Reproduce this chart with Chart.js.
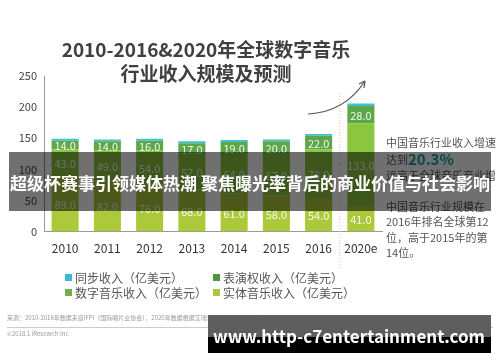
<!DOCTYPE html>
<html>
<head>
<meta charset="utf-8">
<script src="https://cdn.jsdelivr.net/npm/chart.js@4"></script>
<style>
  html, body { margin: 0; padding: 0; background: #fff; }
  #wrap { width: 500px; height: 362px; position: relative; }
</style>
</head>
<body>
<div id="wrap"><canvas id="chart" width="500" height="362"></canvas></div>
<script>
const years = ["2010", "2011", "2012", "2013", "2014", "2015", "2016", "2020e"];
const physical = [89, 82, 76, 68, 61, 58, 54, 41];
const digital = [43, 49, 54, 57, 64, 67, 78, 133];
const performance = [14, 14, 16, 17, 19, 20, 22, 28];
const sync = [3, 3, 3, 3, 3, 3, 3, 4];
const yTicks = [0, 50, 100, 150, 200, 250];

const titleLines = ["2010-2016&2020年全球数字音乐", "行业收入规模及预测"];
const noteLines = ["中国音乐行业收入增速", "达到", "远高于全球音乐产业增", "中国音乐行业规模在", "2016年排名全球第12", "位，高于2015年的第", "14位。"];
const noteHighlight = "20.3%";
const bannerText = "超级杯赛事引领媒体热潮 聚焦曝光率背后的商业价值与社会影响";
const siteText = "www.http-c7entertainment.com";
const sourceText = "来源：2010-2016年数据来自IFPI（国际唱片业协会），2020年数据根据艾瑞咨询统计预测模型估算。";
const copyText = "©2018.1 iResearch Inc";

const FONT = '"Noto Sans CJK SC", "Noto Sans", sans-serif';

// labels drawn inside the segments, extra decorations
const extras = {
  id: "extras",
  afterDatasetsDraw(chart) {
    const ctx = chart.ctx;
    ctx.save();
    ctx.font = "11px " + FONT;
    ctx.fillStyle = "rgba(255,255,255,0.92)";
    ctx.textAlign = "center";
    ctx.textBaseline = "middle";
    chart.data.datasets.forEach((ds, i) => {
      if (!ds.showValue) return;
      chart.getDatasetMeta(i).data.forEach((bar, j) => {
        const mid = (bar.y + bar.base) / 2;
        ctx.fillText(ds.data[j].toFixed(1), bar.x, mid + 1);
      });
    });
    ctx.restore();
  },
  afterDraw(chart) {
    const ctx = chart.ctx;
    const xs = chart.scales.x;
    ctx.save();

    // title
    ctx.fillStyle = "#404040";
    ctx.textAlign = "center";
    ctx.textBaseline = "middle";
    ctx.font = "bold 19px " + FONT;
    ctx.fillText(titleLines[0], 206, 50);
    ctx.fillText(titleLines[1], 206, 74);

    // dotted divider before the forecast
    const divX = (xs.getPixelForValue(6) + xs.getPixelForValue(7)) / 2;
    ctx.strokeStyle = "#d9c7a8";
    ctx.lineWidth = 1;
    ctx.setLineDash([1, 2]);
    ctx.beginPath();
    ctx.moveTo(divX, 93);
    ctx.lineTo(divX, 268);
    ctx.stroke();
    ctx.setLineDash([]);

    // curved arrow
    ctx.strokeStyle = "#555";
    ctx.lineWidth = 1.2;
    ctx.beginPath();
    ctx.moveTo(308, 114);
    ctx.quadraticCurveTo(345, 112, 365, 81);
    ctx.stroke();
    ctx.beginPath();
    ctx.moveTo(365, 81);
    ctx.lineTo(359, 84);
    ctx.moveTo(365, 81);
    ctx.lineTo(364, 88);
    ctx.stroke();

    // right notes
    ctx.textAlign = "left";
    ctx.font = "11px " + FONT;
    ctx.fillStyle = "#555";
    const noteY = [143, 160, 176, 207, 222, 238, 253];
    noteLines.forEach((t, i) => ctx.fillText(t, 386, noteY[i]));
    const w = ctx.measureText(noteLines[1]).width;
    ctx.font = "bold 15px " + FONT;
    ctx.fillStyle = "#1a9aa8";
    ctx.fillText(noteHighlight, 386 + w, 159);

    // legend, 2 x 2
    const order = [3, 2, 1, 0];
    const pos = [[65, 278], [213, 278], [65, 293], [213, 293]];
    ctx.font = "12px " + FONT;
    order.forEach((di, k) => {
      const ds = chart.data.datasets[di];
      ctx.fillStyle = ds.legendColor;
      ctx.fillRect(pos[k][0], pos[k][1] - 4, 7, 7);
      ctx.fillStyle = "#555";
      ctx.fillText(ds.label, pos[k][0] + 10, pos[k][1]);
    });

    // footer
    ctx.font = "6px " + FONT;
    ctx.fillStyle = "#999";
    ctx.fillText(sourceText, 7, 318);
    ctx.strokeStyle = "#ccc";
    ctx.lineWidth = 1;
    ctx.beginPath();
    ctx.moveTo(7, 327.5);
    ctx.lineTo(493, 327.5);
    ctx.stroke();
    ctx.fillText(copyText, 7, 334);

    // overlay banner in the middle
    ctx.fillStyle = "rgba(0,0,0,0.56)";
    ctx.fillRect(9, 152, 482, 59);
    ctx.fillStyle = "#fff";
    ctx.textAlign = "center";
    ctx.font = "bold 17px " + FONT;
    ctx.fillText(bannerText, 250, 184);

    // site box at the bottom
    ctx.fillStyle = "#5e5e5e";
    ctx.fillRect(208, 315, 283, 22);
    ctx.fillStyle = "#000";
    ctx.fillRect(208, 337, 283, 16);
    ctx.fillStyle = "#fff";
    ctx.font = "bold 17px " + FONT;
    ctx.fillText(siteText, 349, 337);

    ctx.restore();
  }
};

new Chart(document.getElementById("chart"), {
  type: "bar",
  data: {
    labels: years,
    datasets: [
      { label: "实体音乐收入（亿美元）", data: physical, backgroundColor: "#abc93a", legendColor: "#a9c83c", showValue: true },
      { label: "数字音乐收入（亿美元）", data: digital, backgroundColor: "#8cc540", legendColor: "#6eb33f", showValue: true },
      { label: "表演权收入（亿美元）", data: performance, backgroundColor: "#5ea748", legendColor: "#4f9441", showValue: true },
      { label: "同步收入（亿美元）", data: sync, backgroundColor: "#3fc1d6", legendColor: "#3bb7d6", showValue: false }
    ]
  },
  options: {
    responsive: false,
    animation: false,
    layout: { padding: { top: 76, left: 10, right: 118, bottom: 96 } },
    plugins: {
      legend: { display: false },
      title: { display: false },
      tooltip: { enabled: false }
    },
    datasets: {
      bar: { categoryPercentage: 1, barPercentage: 0.64 }
    },
    scales: {
      x: {
        stacked: true,
        grid: { display: false, drawTicks: false },
        border: { color: "#999" },
        ticks: { color: "#333", font: { size: 12, family: FONT }, padding: 10 }
      },
      y: {
        stacked: true,
        min: 0,
        max: 250,
        afterBuildTicks: (s) => { s.ticks = yTicks.map(v => ({ value: v })); },
        afterFit: (s) => { s.width = 34; },
        grid: { display: false, drawTicks: false },
        border: { color: "#999" },
        ticks: { color: "#444", font: { size: 11, family: FONT }, padding: 7 }
      }
    }
  },
  plugins: [extras]
});
</script>
</body>
</html>
